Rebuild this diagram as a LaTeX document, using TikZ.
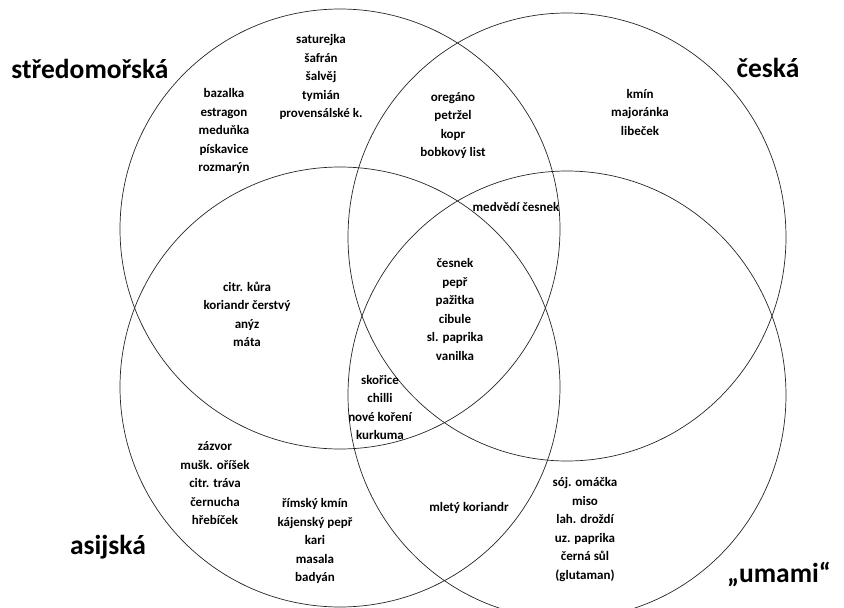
\documentclass[tikz,border=0pt]{standalone}
\usepackage{fontspec}
\setmainfont{Carlito}
\usepackage{tikz}

\begin{document}
\begin{tikzpicture}[x=1pt,y=-1pt,
  ring/.style={line width=0.7pt, black!85},
  spice/.style={font=\bfseries\fontsize{13}{18.5}\selectfont, align=center, inner sep=0pt},
  cuisine/.style={font=\bfseries\fontsize{27.5}{30}\selectfont, inner sep=0pt}]
\useasboundingbox (0,0) rectangle (844,608);

% the four circles
\draw[ring] (340,229) circle [x radius=220pt, y radius=220pt];
\draw[ring] (567,237) circle [x radius=219pt, y radius=224pt];
\draw[ring] (340,387) circle [x radius=220pt, y radius=220pt];
\draw[ring] (567,395) circle [x radius=219pt, y radius=224pt];

% names
\node[cuisine] (stred) at (90,69) {středomořská};
\node[cuisine] (cesk) at (768,68) {česká};
\node[cuisine] (asij) at (108,547) {asijská};
\node[cuisine] (umam) at (779,574) {„umami“};

% spices
\node[spice] (sA) at (321,77) {saturejka\\šafrán\\šalvěj\\tymián\\provensálské k.};
\node[spice] (sB) at (224,131) {bazalka\\estragon\\meduňka\\pískavice\\rozmarýn};
\node[spice] (sC) at (453,125.5) {oregáno\\petržel\\kopr\\bobkový list};
\node[spice] (sD) at (640,112) {kmín\\majoránka\\libeček};
\node[spice] (sE) at (516,207) {medvědí česnek};
\node[spice] (sF) at (455,309.5) {česnek\\pepř\\pažitka\\cibule\\sl. paprika\\vanilka};
\node[spice] (sG) at (247,314.5) {citr. kůra\\koriandr čerstvý\\anýz\\máta};
\node[spice] (sH) at (380,407.5) {skořice\\chilli\\nové koření\\kurkuma};
\node[spice] (sI) at (215,483.5) {zázvor\\mušk. oříšek\\citr. tráva\\černucha\\hřebíček};
\node[spice] (sJ) at (315,541) {římský kmín\\kájenský pepř\\kari\\masala\\badyán};
\node[spice] (sK) at (469,508) {mletý koriandr};
\node[spice] (sL) at (585,529.5) {sój. omáčka\\miso\\lah. droždí\\uz. paprika\\černá sůl\\(glutaman)};
\end{tikzpicture}
\end{document}
